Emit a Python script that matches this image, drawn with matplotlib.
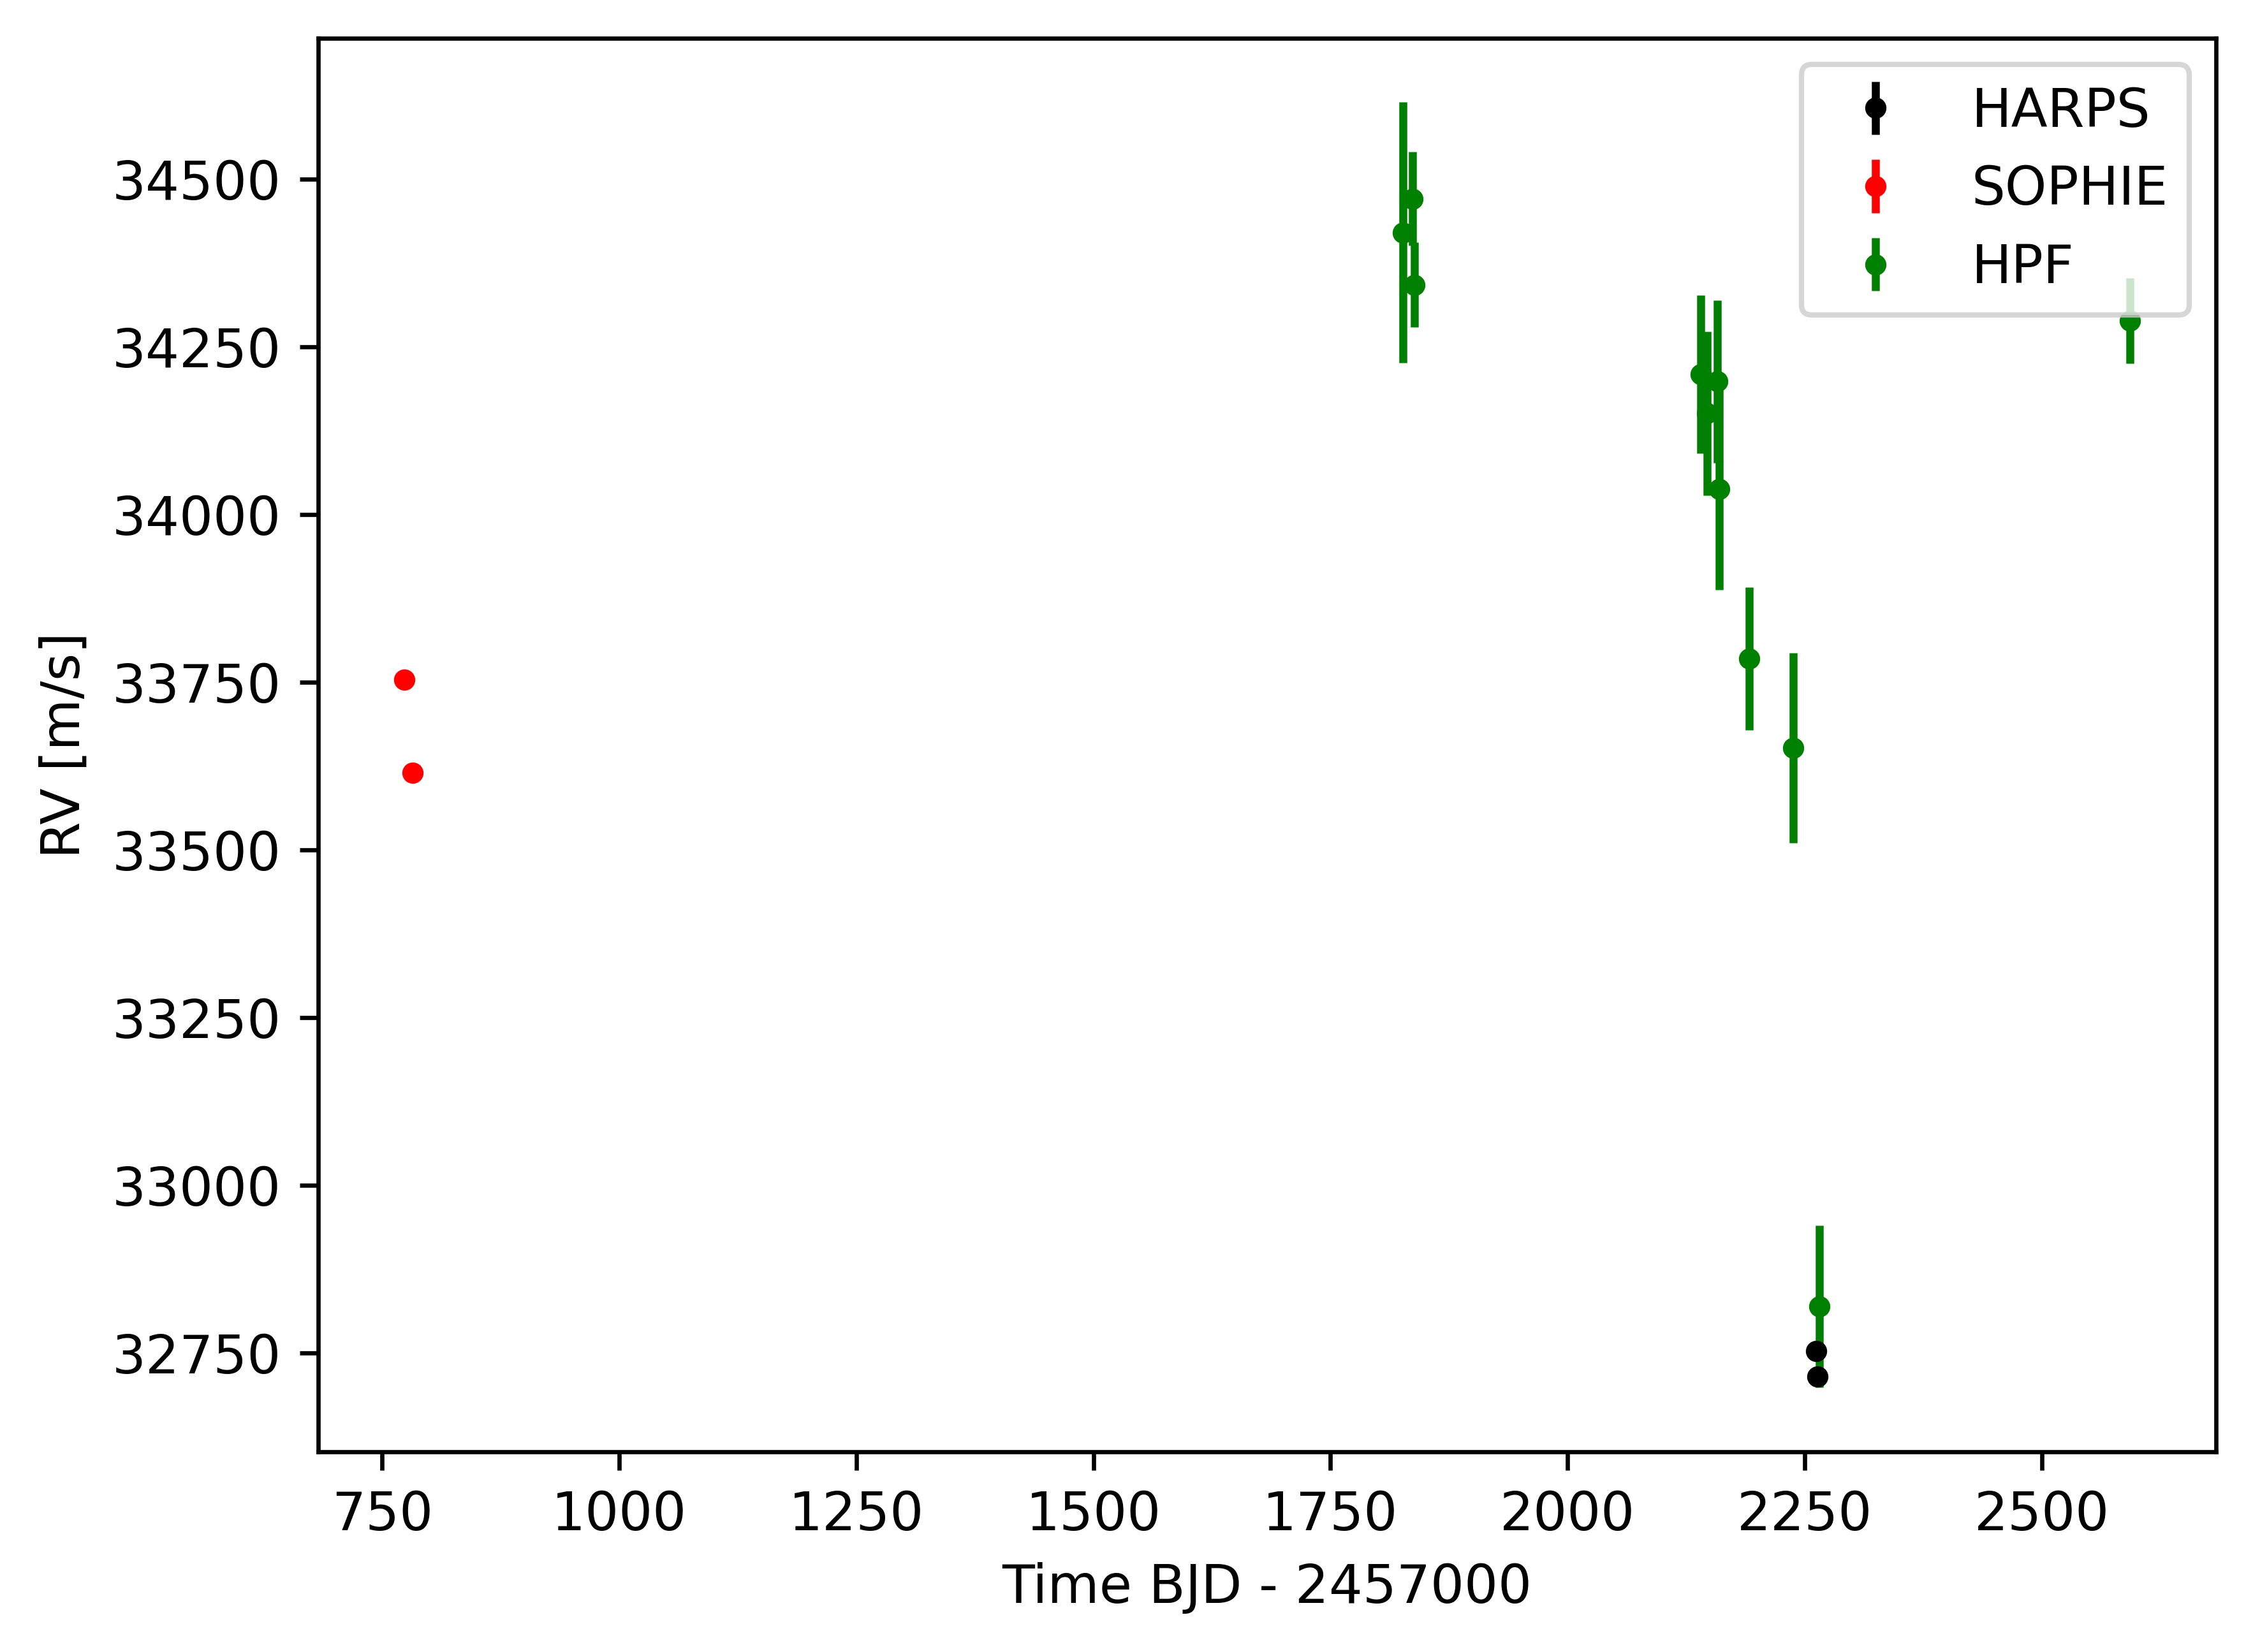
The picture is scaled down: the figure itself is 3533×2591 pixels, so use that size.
import matplotlib
matplotlib.use("Agg")
import matplotlib.pyplot as plt

# HARPS
harps_t = [2262.4, 2263.8]
harps_rv = [32752.6, 32715.2]
harps_err = [3.0, 3.0]

# SOPHIE
sophie_t = [773.3, 782.0]
sophie_rv = [33753.5, 33614.7]
sophie_err = [4.0, 4.0]

# HPF
hpf_t = [1826.4, 1836.5, 1838.5, 2140.8, 2146.9, 2158.3, 2160.3, 2191.3, 2237.7, 2265.9, 2592.8]
hpf_rv = [34420.3, 34470.7, 34342.3, 34209.0, 34151.0, 34198.5, 34037.6, 33784.9, 33652.0, 32819.1, 34288.8]
hpf_err = [194.3, 69.9, 63.2, 117.9, 122.2, 121.1, 150.0, 106.6, 141.8, 120.8, 63.7]

W, H = 3533, 2591
fig = plt.figure(figsize=(W / 600, H / 600), dpi=600)
left, bottom_px = 498.8, 2277.2
aw, ah = 0.775 * 6.4 * 600, 0.77 * 4.8 * 600
ax = fig.add_axes([left / W, 1 - bottom_px / H, aw / W, ah / H])

ax.errorbar(harps_t, harps_rv, yerr=harps_err, fmt='.', color='black', label='HARPS', zorder=3)
ax.errorbar(sophie_t, sophie_rv, yerr=sophie_err, fmt='.', color='red', label='SOPHIE')
ax.errorbar(hpf_t, hpf_rv, yerr=hpf_err, fmt='.', color='green', label='HPF')

ax.set_xlabel('Time BJD - 2457000')
ax.set_ylabel('RV [m/s]')
ax.legend(loc='upper right')

fig.savefig('out.png', dpi=600)
